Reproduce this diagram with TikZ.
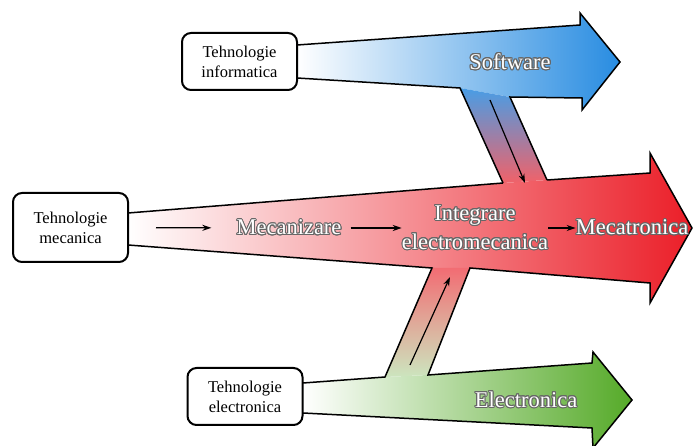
\documentclass[tikz,border=0pt]{standalone}
\usepackage{fontspec}
\setmainfont{Liberation Serif}
\usepackage[copies]{contour}
\usetikzlibrary{arrows.meta}

\definecolor{infoblue}{RGB}{40,140,225}
\definecolor{mecred}{RGB}{235,30,40}
\definecolor{elecgreen}{RGB}{85,170,40}
\contourlength{1pt}
\newcommand{\glow}[1]{\contour{black!60}{#1}}

\tikzset{
  techbox/.style={draw=black, line width=2pt, rounded corners=9pt, fill=white,
    align=center, minimum width=115pt, font=\fontsize{16.5}{20}\selectfont},
  stage/.style={text=white, align=center, inner sep=0pt,
    font=\fontsize{22.5}{29}\selectfont},
  outline/.style={line width=1.5pt, line join=miter},
  flow/.style={-{Stealth[length=9pt,width=6pt]}, line width=1.2pt}
}

\begin{document}
\begin{tikzpicture}[x=1pt,y=-1pt]
\useasboundingbox (0,0) rectangle (694,446);
\shade [left color=white, right color=infoblue] (297,45) -- (580,25) -- (580,13) -- (620,62) -- (582,110) -- (582,98) -- (510,97) -- (460,88) -- (297,78) -- cycle;
\shade [left color=white, middle color=mecred!60!white, right color=mecred] (128,213) -- (503,183) -- (547,180) -- (650,173) -- (650,153) -- (692,228) -- (650,303) -- (650,283) -- (470,268) -- (432,268) -- (128,245) -- cycle;
\shade [left color=white, right color=elecgreen] (303,383) -- (385,377) -- (428,375) -- (592,363) -- (593,352) -- (632,400) -- (593,448) -- (592,428) -- (303,413) -- cycle;
\shade [top color=infoblue!85!white, bottom color=mecred!70!white] (460,88) -- (510,97) -- (547,180) -- (503,183) -- cycle;
\shade [top color=mecred!65!white, bottom color=elecgreen!30!white] (432,268) -- (470,268) -- (428,375) -- (385,377) -- cycle;
% contours
\draw [outline] (297,45) -- (580,25) -- (580,13) -- (620,62) -- (582,110) -- (582,98) -- (510,97) -- (547,180);
\draw [outline] (297,78) -- (460,88) -- (503,183);
\draw [outline] (128,213) -- (503,183);
\draw [outline] (547,180) -- (650,173) -- (650,153) -- (692,228) -- (650,303) -- (650,283) -- (470,268) -- (428,375) -- (592,363) -- (593,352) -- (632,400) -- (593,448);
\draw [outline] (128,245) -- (432,268) -- (385,377) -- (303,383);
\draw [outline] (303,413) -- (592,428) -- (593,448);

\node [techbox, minimum height=57pt] (info) at (239.5,61.5) {Tehnologie\\informatica};
\node [techbox, minimum height=69pt] (mec) at (70.5,227.5) {Tehnologie\\mecanica};
\node [techbox, minimum height=57pt] (elec) at (245,396.5) {Tehnologie\\electronica};

\node [stage] (soft) at (510,62) {\glow{Software}};
\node [stage] (mecz) at (289,228) {\glow{Mecanizare}};
\node [stage] (integ) at (475,228) {\glow{Integrare}\\\glow{electromecanica}};
\node [stage] (mecat) at (632,228) {\glow{Mecatronica}};
\node [stage] (electr) at (526,400) {\glow{Electronica}};

\coordinate (sb) at (490,100);
\coordinate (se) at (525,183);
\coordinate (eb) at (410,365);
\coordinate (ee) at (450,277);
\draw [flow, shorten <=27pt, shorten >=25pt] (mec) -- (mecz);
\draw [flow, shorten <=9pt] (mecz) -- (integ);
\draw [flow] (integ) -- (mecat);
\draw [flow] (sb) -- (se);
\draw [flow] (eb) -- (ee);
\end{tikzpicture}
\end{document}
